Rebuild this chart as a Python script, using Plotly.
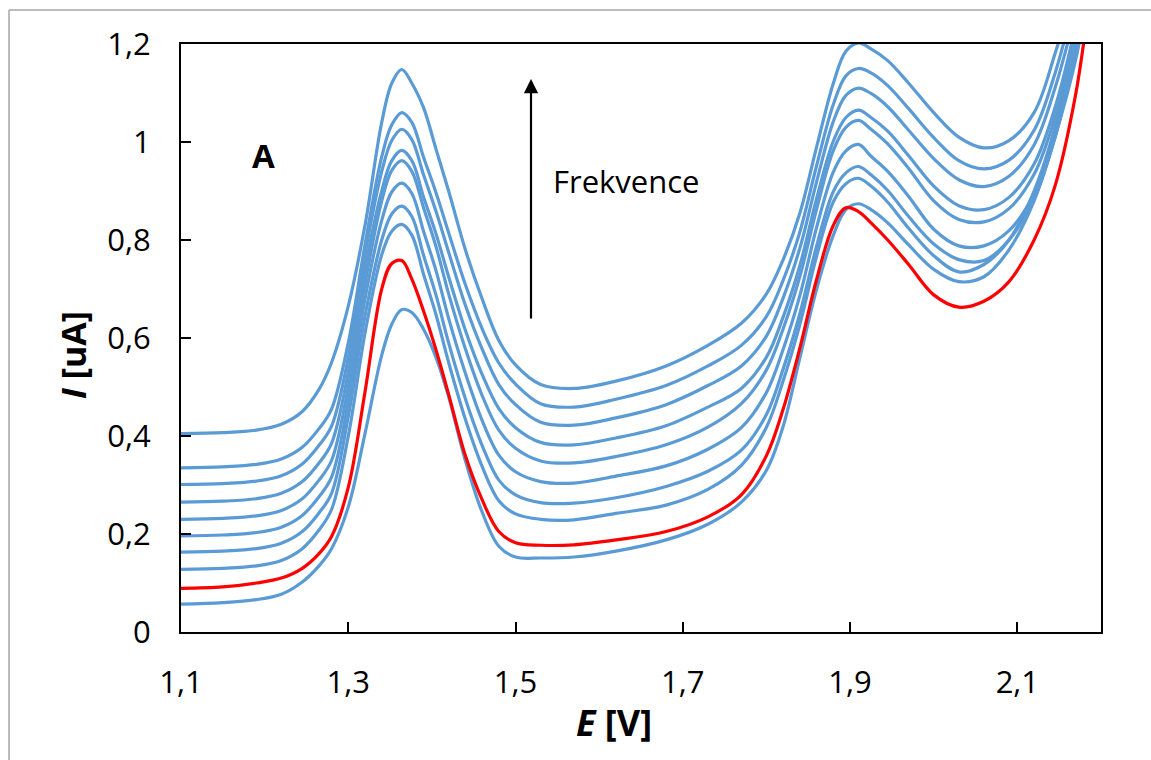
import plotly.graph_objects as go

# ---- data ----
E = [1.10, 1.15, 1.19, 1.22, 1.245, 1.265, 1.28,
     1.30, 1.32, 1.34, 1.352, 1.364, 1.376, 1.39, 1.405,
     1.42, 1.44, 1.46, 1.48, 1.50, 1.53, 1.57,
     1.62, 1.68, 1.73, 1.77, 1.80, 1.82, 1.84, 1.86,
     1.88, 1.895, 1.91, 1.925, 1.945, 1.97,
     2.00, 2.03, 2.06, 2.09, 2.12, 2.145, 2.17, 2.20, 2.22]

I_1 = [0.405, 0.407, 0.412, 0.424, 0.45, 0.495, 0.55,
       0.665, 0.83, 1.04, 1.12, 1.148, 1.12, 1.07, 0.985,
       0.90, 0.78, 0.68, 0.595, 0.545, 0.505, 0.497,
       0.512, 0.543, 0.585, 0.63, 0.69, 0.76, 0.855, 0.99,
       1.12, 1.185, 1.202, 1.19, 1.166, 1.12,
       1.06, 1.01, 0.988, 1.003, 1.06, 1.18, 1.33, 1.55, 1.70]
I_2 = [0.335, 0.337, 0.342, 0.353, 0.377, 0.415, 0.455,
       0.59, 0.79, 0.97, 1.035, 1.06, 1.04, 0.969, 0.896,
       0.815, 0.709, 0.619, 0.549, 0.506, 0.466, 0.459,
       0.475, 0.503, 0.543, 0.585, 0.644, 0.718, 0.817, 0.952,
       1.077, 1.135, 1.15, 1.141, 1.115, 1.068,
       1.009, 0.962, 0.945, 0.963, 1.024, 1.14, 1.30, 1.52, 1.67]
I_3 = [0.301, 0.303, 0.308, 0.319, 0.343, 0.381, 0.42,
       0.56, 0.77, 0.94, 1.003, 1.026, 1.005, 0.933, 0.858,
       0.775, 0.667, 0.578, 0.505, 0.464, 0.428, 0.422,
       0.437, 0.464, 0.503, 0.543, 0.604, 0.682, 0.784, 0.919,
       1.042, 1.095, 1.11, 1.099, 1.072, 1.024,
       0.966, 0.923, 0.909, 0.93, 0.994, 1.11, 1.27, 1.51, 1.66]
I_4 = [0.265, 0.267, 0.272, 0.283, 0.307, 0.345, 0.385,
       0.53, 0.74, 0.90, 0.962, 0.983, 0.962, 0.888, 0.812,
       0.725, 0.616, 0.526, 0.456, 0.417, 0.387, 0.382,
       0.396, 0.421, 0.459, 0.497, 0.561, 0.643, 0.748, 0.885,
       1.002, 1.05, 1.065, 1.05, 1.022, 0.972,
       0.91, 0.87, 0.862, 0.887, 0.955, 1.07, 1.24, 1.50, 1.65]
I_5 = [0.23, 0.232, 0.237, 0.248, 0.272, 0.31, 0.35,
       0.50, 0.71, 0.88, 0.942, 0.962, 0.94, 0.866, 0.786,
       0.69, 0.578, 0.483, 0.412, 0.375, 0.349, 0.345,
       0.358, 0.382, 0.418, 0.466, 0.535, 0.619, 0.726, 0.863,
       0.983, 1.03, 1.044, 1.026, 0.996, 0.946,
       0.88, 0.842, 0.837, 0.864, 0.934, 1.05, 1.22, 1.49, 1.65]
I_6 = [0.196, 0.198, 0.203, 0.214, 0.238, 0.276, 0.316,
       0.47, 0.68, 0.84, 0.898, 0.916, 0.895, 0.818, 0.737,
       0.64, 0.528, 0.432, 0.361, 0.327, 0.307, 0.304,
       0.318, 0.339, 0.373, 0.417, 0.489, 0.577, 0.687, 0.826,
       0.939, 0.982, 0.995, 0.971, 0.94, 0.889,
       0.822, 0.788, 0.788, 0.819, 0.894, 1.01, 1.19, 1.48, 1.64]
I_7 = [0.163, 0.165, 0.17, 0.181, 0.205, 0.243, 0.283,
       0.44, 0.645, 0.80, 0.853, 0.869, 0.848, 0.769, 0.687,
       0.59, 0.476, 0.381, 0.31, 0.28, 0.264, 0.263,
       0.274, 0.297, 0.328, 0.371, 0.444, 0.537, 0.65, 0.788,
       0.899, 0.937, 0.95, 0.933, 0.901, 0.848,
       0.792, 0.76, 0.758, 0.80, 0.885, 1.01, 1.20, 1.48, 1.64]
I_8 = [0.128, 0.13, 0.135, 0.146, 0.17, 0.208, 0.25,
       0.40, 0.61, 0.77, 0.818, 0.832, 0.81, 0.73, 0.647,
       0.55, 0.434, 0.338, 0.268, 0.241, 0.23, 0.229,
       0.242, 0.259, 0.291, 0.34, 0.418, 0.513, 0.628, 0.767,
       0.878, 0.915, 0.926, 0.91, 0.877, 0.824,
       0.768, 0.735, 0.75, 0.80, 0.90, 1.03, 1.22, 1.49, 1.65]
I_red = [0.089, 0.092, 0.10, 0.11, 0.13, 0.16, 0.195,
         0.295, 0.49, 0.70, 0.752, 0.758, 0.72, 0.655, 0.575,
         0.485, 0.36, 0.27, 0.205, 0.182, 0.177, 0.178,
         0.188, 0.205, 0.235, 0.28, 0.36, 0.455, 0.58, 0.72,
         0.83, 0.866, 0.858, 0.835, 0.80, 0.75,
         0.688, 0.663, 0.675, 0.715, 0.80, 0.91, 1.10, 1.45, 1.60]
I_10 = [0.057, 0.06, 0.066, 0.077, 0.102, 0.135, 0.17,
        0.255, 0.405, 0.565, 0.628, 0.658, 0.652, 0.618, 0.56,
        0.48, 0.35, 0.245, 0.175, 0.153, 0.151, 0.153,
        0.165, 0.188, 0.22, 0.265, 0.33, 0.42, 0.56, 0.70,
        0.81, 0.862, 0.874, 0.862, 0.835, 0.79,
        0.74, 0.715, 0.725, 0.78, 0.88, 1.01, 1.17, 1.45, 1.60]

blue_series = [I_1, I_2, I_3, I_4, I_5, I_6, I_7, I_8, I_10]

x_tickvals = [1.1, 1.3, 1.5, 1.7, 1.9, 2.1]
x_ticktext = ["1,1", "1,3", "1,5", "1,7", "1,9", "2,1"]
y_tickvals = [0, 0.2, 0.4, 0.6, 0.8, 1.0, 1.2]
y_ticktext = ["0", "0,2", "0,4", "0,6", "0,8", "1", "1,2"]

BLUE = "#5B9BD5"
RED = "#FF0000"
FONT = "Open Sans"

fig = go.Figure()
for s in blue_series:
    fig.add_trace(go.Scatter(x=E, y=s, mode="lines",
                             line=dict(color=BLUE, width=3.2, shape="spline", smoothing=1.0),
                             showlegend=False, hoverinfo="skip"))
fig.add_trace(go.Scatter(x=E, y=I_red, mode="lines",
                         line=dict(color=RED, width=3.2, shape="spline", smoothing=1.0),
                         showlegend=False, hoverinfo="skip"))

W, H = 1151, 760
L, R, T, B = 181, 50, 44, 128
pw, ph = W - L - R, H - T - B

def px_x(p):
    return (p - L) / pw

def px_y(p):
    return (H - B - p) / ph

fig.update_layout(
    width=W, height=H,
    margin=dict(l=L, r=R, t=T, b=B, pad=0),
    paper_bgcolor="white", plot_bgcolor="white",
    font=dict(family=FONT, color="black", size=31),
    xaxis=dict(range=[1.1, 2.2], tickvals=x_tickvals, ticktext=x_ticktext,
               ticks="inside", ticklen=10, tickwidth=2, tickcolor="black",
               showline=True, linecolor="black", linewidth=2, mirror=True,
               showgrid=False, zeroline=False, ticklabelstandoff=22,
               tickfont=dict(family=FONT, size=31, color="black")),
    yaxis=dict(range=[0, 1.2], tickvals=y_tickvals, ticktext=y_ticktext,
               ticks="inside", ticklen=10, tickwidth=2, tickcolor="black",
               showline=True, linecolor="black", linewidth=2, mirror=True,
               showgrid=False, zeroline=False, ticklabelstandoff=22,
               tickfont=dict(family=FONT, size=31, color="black")),
    annotations=[
        dict(text="<b><i>E</i> [V]</b>", xref="paper", yref="paper",
             x=px_x(614), y=px_y(722), xanchor="center", yanchor="middle",
             showarrow=False, font=dict(family=FONT, size=36, color="black")),
        dict(text="<b><i>I</i> [uA]</b>", xref="paper", yref="paper",
             x=px_x(73), y=px_y(355), xanchor="center", yanchor="middle", textangle=-90,
             showarrow=False, font=dict(family=FONT, size=34, color="black")),
        dict(text="<b>A</b>", xref="paper", yref="paper",
             x=px_x(263), y=px_y(155), xanchor="center", yanchor="middle",
             showarrow=False, font=dict(family=FONT, size=33, color="black")),
        dict(text="Frekvence", xref="paper", yref="paper",
             x=px_x(551), y=px_y(181), xanchor="left", yanchor="middle",
             showarrow=False, font=dict(family=FONT, size=31, color="black")),
        dict(text="", xref="paper", yref="paper",
             x=px_x(531), y=px_y(79), ax=0, ay=241,
             showarrow=True, arrowhead=2, arrowsize=1.3, arrowwidth=2.2, arrowcolor="black"),
    ],
    shapes=[
        dict(type="line", xref="paper", yref="paper", x0=px_x(9), x1=px_x(1151),
             y0=px_y(10), y1=px_y(10), line=dict(color="#A6A6A6", width=1.5)),
        dict(type="line", xref="paper", yref="paper", x0=px_x(9), x1=px_x(9),
             y0=px_y(10), y1=px_y(760), line=dict(color="#A6A6A6", width=1.5)),
    ],
)

fig.write_html("out.html")
